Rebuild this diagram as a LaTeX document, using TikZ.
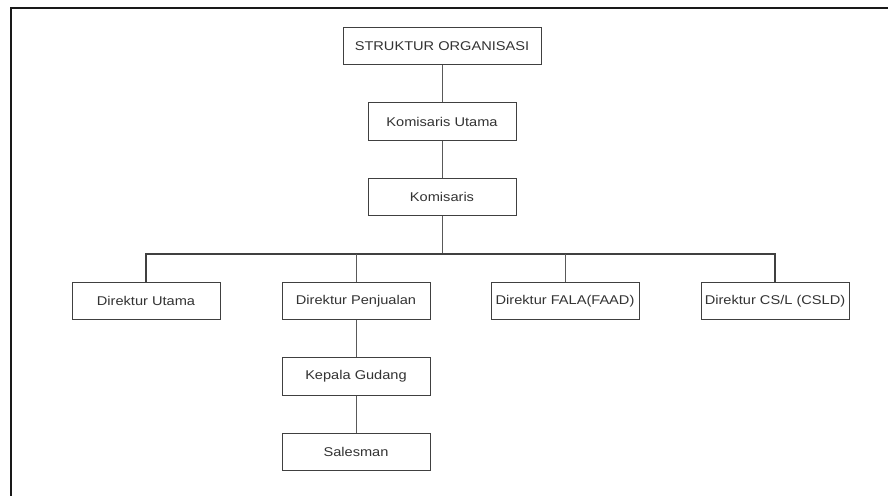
\documentclass[tikz,border=0pt]{standalone}
\usepackage{fontspec}
\setmainfont[FakeStretch=1.15]{Liberation Sans}
\begin{document}
\begin{tikzpicture}[x=1pt,y=-1pt,
  orgbox/.style={draw=black!75, line width=0.9pt, fill=white, minimum width=148pt,
    minimum height=37.5pt, inner sep=0pt, text=black!80,
    font=\fontsize{12.7}{14}\selectfont},
  link/.style={draw=black!65, line width=1pt},
  thicklink/.style={draw=black!75, line width=2pt}]
\useasboundingbox (0,0) rectangle (888,496);
\fill[white] (0,0) rectangle (888,496);
% outer frame (top and left edges)
\draw[line width=1.6pt, black!90] (888,8) -- (11,8) -- (11,496);

% nodes
\node[orgbox, minimum width=198pt] (title) at (442,46) {STRUKTUR ORGANISASI};
\node[orgbox] (ku) at (442,121.5) {Komisaris Utama};
\node[orgbox] (kom) at (442,197) {Komisaris};
\node[orgbox] (du) at (146,301) {Direktur Utama};
\node[orgbox] (dp) at (356,301) {Direktur Penjualan};
\node[orgbox] (fala) at (565,301) {Direktur FALA(FAAD)};
\node[orgbox] (csl) at (775,301) {Direktur CS/L (CSLD)};
\node[orgbox] (kg) at (356,376.5) {Kepala Gudang};
\node[orgbox] (sales) at (356,452) {Salesman};

\coordinate (bus) at (442,254);

% connectors
\draw[link] (title) -- (ku);
\draw[link] (ku) -- (kom);
\draw[link] (kom) -- (bus);
\draw[thicklink] (du.north) |- (bus) -| (csl.north);
\draw[link] (dp.north) -- (dp.north |- bus);
\draw[link] (fala.north) -- (fala.north |- bus);
\draw[link] (dp) -- (kg);
\draw[link] (kg) -- (sales);
\end{tikzpicture}
\end{document}
